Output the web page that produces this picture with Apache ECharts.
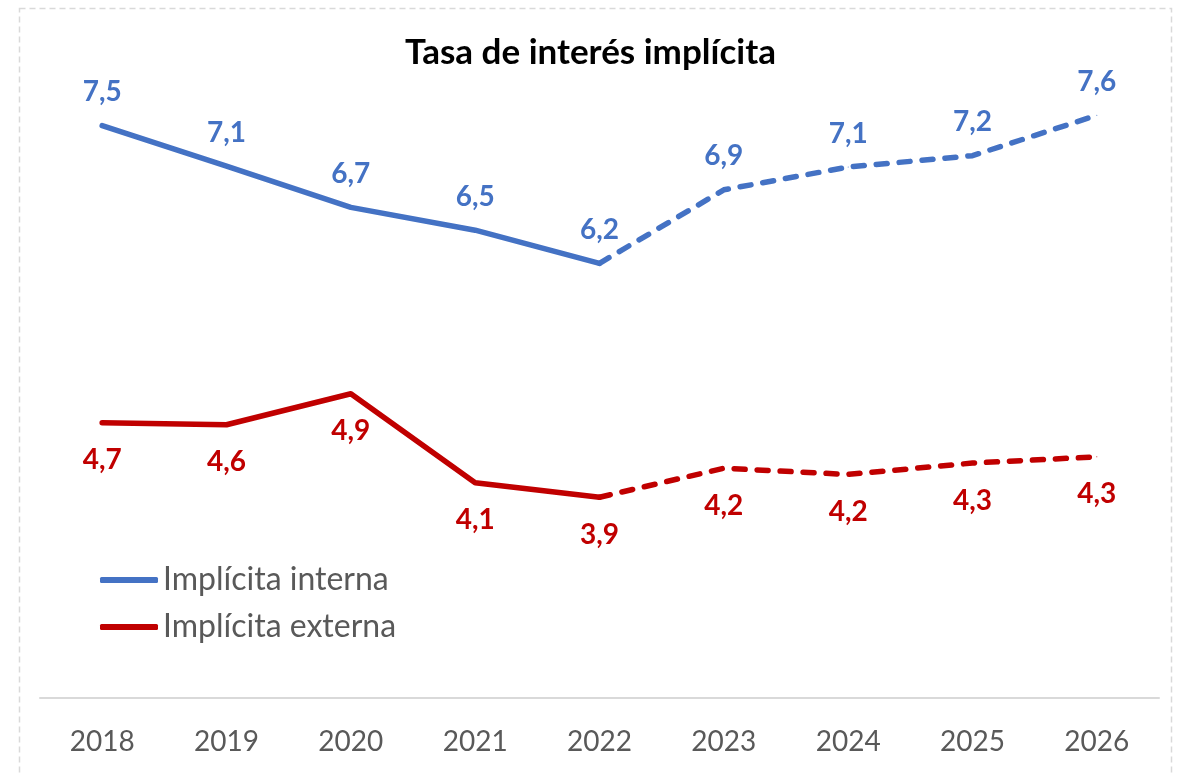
<!DOCTYPE html>
<html>
<head>
<meta charset="utf-8">
<script src="https://cdn.jsdelivr.net/npm/echarts@6/dist/echarts.min.js"></script>
<style>
html,body{margin:0;padding:0;background:#fff;}
#chart{width:1181px;height:774px;}
</style>
</head>
<body>
<div id="chart"></div>
<script>
const years = ['2018','2019','2020','2021','2022','2023','2024','2025','2026'];
const interna = [7.53, 7.14, 6.74, 6.52, 6.20, 6.91, 7.13, 7.24, 7.63];
const externa = [4.66, 4.64, 4.94, 4.08, 3.94, 4.22, 4.16, 4.27, 4.33];
const lastActualIndex = 4; // 2022: solid up to here, dashed afterwards

const FONT = 'Lato, "Open Sans", sans-serif';
const BLUE = '#4472C4';
const RED = '#C00000';

function fmt(v) { return v.toFixed(1).replace('.', ','); }

function solidPart(arr) {
  return arr.map((v, i) => i <= lastActualIndex ? v : null);
}
function dashedPart(arr) {
  return arr.map((v, i) => {
    if (i < lastActualIndex) return null;
    if (i === lastActualIndex) return { value: v, label: { show: false } };
    return v;
  });
}

function makeSeries(name, data, color, dashed, labelPos, labelDist) {
  return {
    name: name,
    type: 'line',
    data: data,
    symbol: 'circle',
    symbolSize: 1,
    showSymbol: true,
    connectNulls: false,
    itemStyle: { color: color },
    lineStyle: {
      color: color,
      width: 5.5,
      type: dashed ? [11, 12] : 'solid',
      cap: 'round',
      join: 'round'
    },
    label: {
      show: true,
      position: labelPos,
      distance: labelDist,
      color: color,
      fontFamily: FONT,
      fontWeight: 'bold',
      fontSize: 28,
      formatter: p => fmt(p.value)
    },
    emphasis: { disabled: true },
    animation: false,
    z: dashed ? 2 : 3
  };
}

const chart = echarts.init(document.getElementById('chart'), null, { renderer: 'canvas' });
chart.setOption({
  backgroundColor: '#ffffff',
  animation: false,
  title: {
    text: 'Tasa de interés implícita',
    left: 'center',
    top: 30,
    textStyle: { fontFamily: FONT, fontWeight: 'bold', fontSize: 35, color: '#000000' }
  },
  graphic: [{
    type: 'rect',
    shape: { x: 19.5, y: 8.5, width: 1152, height: 780 },
    style: { fill: 'none', stroke: '#D9D9D9', lineWidth: 1.5, lineDash: [6, 4] },
    silent: true,
    z: -1
  }],
  legend: {
    data: ['Implícita interna', 'Implícita externa'],
    orient: 'vertical',
    left: 95,
    top: 557,
    itemWidth: 58,
    itemHeight: 6,
    itemGap: 11,
    icon: 'roundRect',
    textStyle: { fontFamily: FONT, fontSize: 32, color: '#595959', lineHeight: 36 },
    selectedMode: false
  },
  grid: { left: 40, right: 22, top: 77, bottom: 76, containLabel: false },
  xAxis: {
    type: 'category',
    data: years,
    boundaryGap: true,
    axisLine: { show: true, lineStyle: { color: '#D9D9D9', width: 2 } },
    axisTick: { show: false },
    axisLabel: { fontFamily: FONT, fontSize: 28, color: '#595959', margin: 30 }
  },
  yAxis: {
    type: 'value',
    min: 2,
    max: 8,
    interval: 1,
    show: false,
    splitLine: { show: false }
  },
  series: [
    makeSeries('Implícita interna', solidPart(interna), BLUE, false, 'top', 19),
    makeSeries('Implícita interna proyectada', dashedPart(interna), BLUE, true, 'top', 19),
    makeSeries('Implícita externa', solidPart(externa), RED, false, 'bottom', 23),
    makeSeries('Implícita externa proyectada', dashedPart(externa), RED, true, 'bottom', 23)
  ]
});
</script>
</body>
</html>
